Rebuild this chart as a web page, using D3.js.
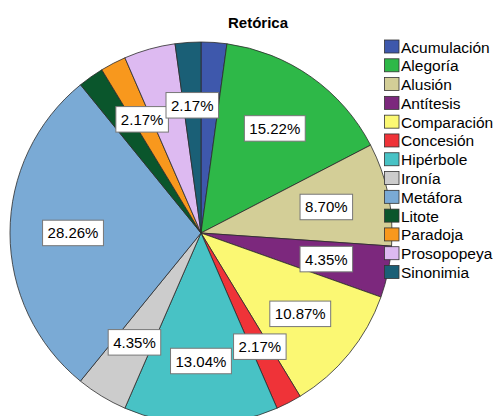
<!DOCTYPE html>
<html>
<head>
<meta charset="utf-8">
<script src="https://cdn.jsdelivr.net/npm/d3@7"></script>
<style>
  html, body { margin: 0; padding: 0; background: #fff; }
  svg { display: block; font-family: "Liberation Sans", Arial, sans-serif; }
</style>
</head>
<body>
<svg id="chart" width="498" height="416"></svg>
<script>
const categories = ["Acumulación","Alegoría","Alusión","Antítesis","Comparación","Concesión","Hipérbole","Ironía","Metáfora","Litote","Paradoja","Prosopopeya","Sinonimia"];
const percents = [2.17, 15.22, 8.70, 4.35, 10.87, 2.17, 13.04, 4.35, 28.26, 2.17, 2.17, 4.35, 2.17];
const showLabel = [false, true, true, true, true, true, true, true, true, false, true, false, true];
const colors = ["#3E58AC","#2EB848","#D3CE97","#7C287D","#FBF873","#EF3338","#48C2C5","#CCCCCC","#7AAAD5","#0A562C","#F8981D","#DDBAF1","#1A5F76"];
const title = "Retórica";

const svg = d3.select("#chart");
const cx = 201, cy = 233, R = 191, labelR = 128;

const data = categories.map((c, i) => ({ name: c, value: percents[i], color: colors[i], show: showLabel[i] }));
const pie = d3.pie().value(d => d.value).sort(null);
const arcs = pie(data);
const arc = d3.arc().innerRadius(0).outerRadius(R);
const labelArc = d3.arc().innerRadius(labelR).outerRadius(labelR);

const g = svg.append("g").attr("transform", `translate(${cx},${cy})`);
g.selectAll("path.slice").data(arcs).enter().append("path")
  .attr("class", "slice")
  .attr("d", arc)
  .attr("fill", d => d.data.color)
  .attr("stroke", "#2b2b2b")
  .attr("stroke-width", 0.8)
  .attr("stroke-linejoin", "round");

const fmt = d3.format(".2f");
const lab = g.selectAll("g.lab").data(arcs.filter(d => d.data.show)).enter().append("g")
  .attr("class", "lab")
  .attr("transform", d => `translate(${labelArc.centroid(d)})`);
lab.each(function(d) {
  const sel = d3.select(this);
  const t = sel.append("text")
    .attr("text-anchor", "middle")
    .attr("dominant-baseline", "central")
    .attr("font-size", 15)
    .attr("fill", "#000")
    .text(fmt(d.data.value) + "%");
  const bb = t.node().getBBox();
  sel.insert("rect", "text")
    .attr("x", bb.x - 5)
    .attr("y", -12.75)
    .attr("width", bb.width + 10)
    .attr("height", 25.5)
    .attr("fill", "#fff")
    .attr("stroke", "#777")
    .attr("stroke-width", 1);
});

svg.append("text")
  .attr("x", 258).attr("y", 28)
  .attr("text-anchor", "middle")
  .attr("font-size", 15)
  .attr("font-weight", "bold")
  .text(title);

const legY = d3.scalePoint().domain(categories).range([40, 265.5]);
const leg = svg.append("g").selectAll("g").data(data).enter().append("g")
  .attr("transform", d => `translate(384.5,${legY(d.name)})`);
leg.append("rect")
  .attr("width", 14.5).attr("height", 13)
  .attr("fill", d => d.color)
  .attr("stroke", "#333").attr("stroke-width", 0.8);
leg.append("text")
  .attr("x", 16.5).attr("y", 12.5)
  .attr("font-size", 15.5)
  .attr("fill", "#000")
  .text(d => d.name);
</script>
</body>
</html>
